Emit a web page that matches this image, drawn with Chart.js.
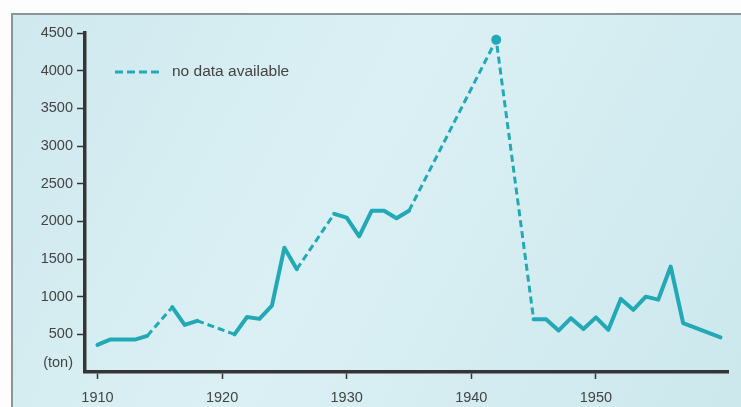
<!DOCTYPE html>
<html><head><meta charset="utf-8">
<script src="https://cdn.jsdelivr.net/npm/chart.js@4.4.1/dist/chart.umd.min.js"></script>
<style>html,body{margin:0;padding:0;background:#fff;overflow:hidden}#wrap{width:741px;height:407px;position:relative}</style>
</head><body><div id="wrap"><canvas id="c"></canvas></div>
<script>
// ---- data ----
const years = [1910,1911,1912,1913,1914,1916,1917,1918,1921,1922,1923,1924,1925,1926,1929,1930,1931,1932,1933,1934,1935,1942,1945,1946,1947,1948,1949,1950,1951,1952,1953,1954,1955,1956,1957,1960];
const tons  = [360,430,430,430,480,860,625,680,500,730,705,880,1650,1365,2100,2050,1800,2140,2140,2040,2140,4410,700,700,550,715,570,725,560,970,825,1000,960,1400,650,460];
const noDataRanges = [[1914,1916],[1918,1921],[1926,1929],[1935,1942],[1942,1945]];
const markedYears = [1942];
const xTickYears = [1910,1920,1930,1940,1950];
const yTickValues = [500,1000,1500,2000,2500,3000,3500,4000,4500];
const unitLabel = '(ton)';
const legendLabel = 'no data available';

// ---- styling ----
const LINE = '#22a9b5';
const TEXT = '#444';
const AXIS = '#353535';
function fontAvailable(name){
  const c=document.createElement('canvas').getContext('2d');
  const t='no data available 4500 1910';
  c.font='20px monospace'; const w1=c.measureText(t).width;
  c.font='20px "'+name+'", monospace'; const w2=c.measureText(t).width;
  return Math.abs(w1-w2)>0.5;
}
const narrow = fontAvailable('Liberation Sans Narrow');
const FAMILY = narrow ? '"Liberation Sans Narrow", "Liberation Sans", sans-serif' : '"Liberation Sans", Arial, sans-serif';
const TICK_SIZE = narrow ? 16.5 : 14.5;
const LEGEND_SIZE = narrow ? 19 : 15.5;

const points = years.map((y,i)=>({x:y,y:tons[i]}));
function isNoData(a,b){ return noDataRanges.some(r=>a>=r[0]&&b<=r[1]); }

const panelPlugin = {
  id:'panel',
  beforeDraw(chart){
    const ctx=chart.ctx, W=chart.width, H=chart.height;
    ctx.save();
    ctx.fillStyle='#fdfdfd'; ctx.fillRect(0,0,W,H);
    const g=ctx.createLinearGradient(12,14,W,H);
    g.addColorStop(0,'#cfe9ee'); g.addColorStop(0.45,'#dbf0f4'); g.addColorStop(1,'#cce8ed');
    ctx.fillStyle=g; ctx.fillRect(12,14,W-12,H-14);
    ctx.strokeStyle='#8a9597'; ctx.lineWidth=2;
    ctx.beginPath(); ctx.moveTo(12,H); ctx.lineTo(12,14); ctx.lineTo(W,14); ctx.stroke();
    ctx.restore();
  }
};
const notePlugin = {
  id:'notes',
  afterDraw(chart){
    const ctx=chart.ctx, a=chart.chartArea, ys=chart.scales.y;
    ctx.save();
    // legend
    const ly=a.top+39, lx=a.left+30;
    ctx.strokeStyle=LINE; ctx.lineWidth=3; ctx.setLineDash([8,4]);
    ctx.beginPath(); ctx.moveTo(lx,ly); ctx.lineTo(lx+45,ly); ctx.stroke();
    ctx.setLineDash([]);
    ctx.fillStyle=TEXT; ctx.font=LEGEND_SIZE+'px '+FAMILY; ctx.textBaseline='middle'; ctx.textAlign='left';
    ctx.fillText(legendLabel, lx+57, ly);
    // unit label
    ctx.font=TICK_SIZE+'px '+FAMILY; ctx.textAlign='right';
    ctx.fillText(unitLabel, a.left-12, ys.getPixelForValue(0)-9);
    ctx.restore();
  }
};

new Chart(document.getElementById('c'),{
  type:'line',
  data:{datasets:[{
    data:points,
    borderColor:LINE,
    backgroundColor:LINE,
    borderWidth:4,
    borderJoinStyle:'round',
    borderCapStyle:'round',
    tension:0,
    pointRadius:ctx=>markedYears.includes(ctx.raw&&ctx.raw.x)?5:0,
    pointHoverRadius:0,
    pointBackgroundColor:LINE,
    pointBorderWidth:0,
    segment:{
      borderDash:ctx=>isNoData(ctx.p0.parsed.x,ctx.p1.parsed.x)?[7,4]:undefined,
      borderWidth:ctx=>isNoData(ctx.p0.parsed.x,ctx.p1.parsed.x)?3:undefined,
      borderCapStyle:ctx=>isNoData(ctx.p0.parsed.x,ctx.p1.parsed.x)?'butt':undefined
    }
  }]},
  options:{
    responsive:true, maintainAspectRatio:false, animation:false, devicePixelRatio:1,
    layout:{padding:{left:0,right:13,top:33,bottom:0}},
    plugins:{legend:{display:false},tooltip:{enabled:false}},
    scales:{
      x:{
        type:'linear', min:1909, max:1960.6,
        afterBuildTicks:s=>{s.ticks=xTickYears.map(v=>({value:v}));},
        afterFit:s=>{s.height=35;},
        border:{display:true,color:AXIS,width:3.5},
        grid:{display:true,drawOnChartArea:false,drawTicks:true,tickLength:7,tickWidth:1.5,tickColor:AXIS},
        ticks:{color:TEXT,font:{family:FAMILY,size:TICK_SIZE},padding:10,maxRotation:0,callback:v=>String(v)}
      },
      y:{
        type:'linear', min:0, max:4500,
        afterBuildTicks:s=>{s.ticks=yTickValues.map(v=>({value:v}));},
        afterFit:s=>{s.width=85;},
        border:{display:true,color:AXIS,width:3.5},
        grid:{display:true,drawOnChartArea:false,drawTicks:true,tickLength:8,tickWidth:1.5,tickColor:AXIS},
        ticks:{color:TEXT,font:{family:FAMILY,size:TICK_SIZE},padding:4,callback:v=>String(v)}
      }
    }
  },
  plugins:[panelPlugin,notePlugin]
});
</script></body></html>
